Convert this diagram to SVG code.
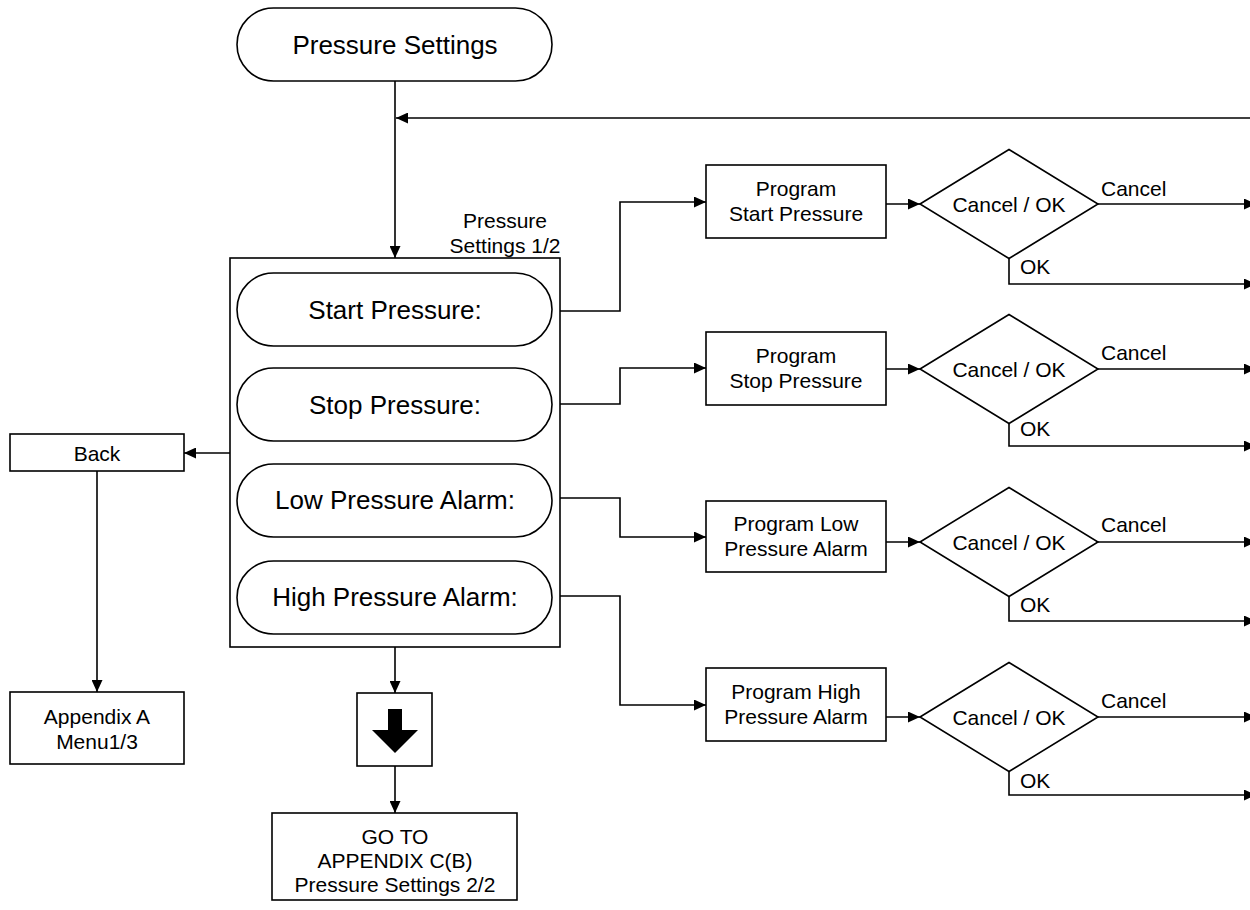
<svg xmlns="http://www.w3.org/2000/svg" width="1250" height="910" viewBox="0 0 1250 910">
<defs>
<marker id="ah" markerUnits="userSpaceOnUse" markerWidth="13" markerHeight="11" refX="12" refY="5.5" orient="auto"><path d="M0,0 L12,5.5 L0,11 z" fill="#000"/></marker>
<style>
.n{fill:#fff;stroke:#000;stroke-width:1.6}
.c{fill:none;stroke:#000;stroke-width:1.6;marker-end:url(#ah)}
.l{fill:none;stroke:#000;stroke-width:1.6}
text{font-family:"Liberation Sans",Arial,sans-serif;fill:#000}
.big{font-size:26px;text-anchor:middle}
.sm{font-size:21px;text-anchor:middle}
.lab{font-size:21px}
</style>
</defs>
<rect width="1250" height="910" fill="#fff"/>

<g id="connectors">
<path class="c" d="M395,81 V258"/>
<path class="c" d="M1252,118 H396"/>
<path class="c" d="M560,311 H620 V202 H706"/>
<path class="c" d="M560,404 H620 V368 H706"/>
<path class="c" d="M560,498 H620 V537 H706"/>
<path class="c" d="M560,596 H620 V705 H706"/>
<path class="c" d="M886,204 H920"/>
<path class="c" d="M886,369 H920"/>
<path class="c" d="M886,542 H920"/>
<path class="c" d="M886,717 H920"/>
<path class="c" d="M1098,204 H1256"/>
<path class="c" d="M1009,258.5 V284 H1256"/>
<path class="c" d="M1098,369 H1256"/>
<path class="c" d="M1009,423.5 V446 H1256"/>
<path class="c" d="M1098,542 H1256"/>
<path class="c" d="M1009,596.5 V621 H1256"/>
<path class="c" d="M1098,717 H1256"/>
<path class="c" d="M1009,771.5 V795 H1256"/>
<path class="c" d="M230,453 H184"/>
<path class="c" d="M97,471 V692"/>
<path class="c" d="M395,647 V693"/>
<path class="c" d="M395,766 V813"/>
<text class="lab" x="1101" y="196">Cancel</text>
<text class="lab" x="1020" y="274">OK</text>
<text class="lab" x="1101" y="360">Cancel</text>
<text class="lab" x="1020" y="436">OK</text>
<text class="lab" x="1101" y="532">Cancel</text>
<text class="lab" x="1020" y="612">OK</text>
<text class="lab" x="1101" y="708">Cancel</text>
<text class="lab" x="1020" y="788">OK</text>
</g>

<g id="pressure-settings">
<rect class="n" x="237" y="8" width="315" height="73" rx="36.5"/>
<text class="big" x="395" y="54">Pressure Settings</text>
</g>

<g id="menu-1-2">
<rect class="n" x="230" y="258" width="330" height="389"/>
<text class="sm" x="505" y="227.5">Pressure</text>
<text class="sm" x="505" y="252.5">Settings 1/2</text>
</g>
<g id="start-pressure">
<rect class="n" x="237" y="273" width="315" height="73" rx="36.5"/>
<text class="big" x="395" y="319">Start Pressure:</text>
</g>
<g id="stop-pressure">
<rect class="n" x="237" y="368" width="315" height="73" rx="36.5"/>
<text class="big" x="395" y="414">Stop Pressure:</text>
</g>
<g id="low-alarm">
<rect class="n" x="237" y="464" width="315" height="73" rx="36.5"/>
<text class="big" x="395" y="509">Low Pressure Alarm:</text>
</g>
<g id="high-alarm">
<rect class="n" x="237" y="561" width="315" height="73" rx="36.5"/>
<text class="big" x="395" y="606">High Pressure Alarm:</text>
</g>

<g id="prog-start">
<rect class="n" x="706" y="165" width="180" height="73"/>
<text class="sm" x="796" y="195.5">Program</text>
<text class="sm" x="796" y="220.5">Start Pressure</text>
</g>
<g id="prog-stop">
<rect class="n" x="706" y="332" width="180" height="73"/>
<text class="sm" x="796" y="362.5">Program</text>
<text class="sm" x="796" y="387.5">Stop Pressure</text>
</g>
<g id="prog-low">
<rect class="n" x="706" y="501" width="180" height="71"/>
<text class="sm" x="796" y="531">Program Low</text>
<text class="sm" x="796" y="556">Pressure Alarm</text>
</g>
<g id="prog-high">
<rect class="n" x="706" y="668" width="180" height="73"/>
<text class="sm" x="796" y="698.5">Program High</text>
<text class="sm" x="796" y="723.5">Pressure Alarm</text>
</g>

<g id="dec-start">
<polygon class="n" points="920,204 1009,149.5 1098,204 1009,258.5"/>
<text class="sm" x="1009" y="211.5">Cancel / OK</text>
</g>
<g id="dec-stop">
<polygon class="n" points="920,369 1009,314.5 1098,369 1009,423.5"/>
<text class="sm" x="1009" y="376.5">Cancel / OK</text>
</g>
<g id="dec-low">
<polygon class="n" points="920,542 1009,487.5 1098,542 1009,596.5"/>
<text class="sm" x="1009" y="549.5">Cancel / OK</text>
</g>
<g id="dec-high">
<polygon class="n" points="920,717 1009,662.5 1098,717 1009,771.5"/>
<text class="sm" x="1009" y="724.5">Cancel / OK</text>
</g>

<g id="back">
<rect class="n" x="10" y="434" width="174" height="37"/>
<text class="sm" x="97" y="460.5">Back</text>
</g>
<g id="appendix-a">
<rect class="n" x="10" y="692" width="174" height="72"/>
<text class="sm" x="97" y="723.5">Appendix A</text>
<text class="sm" x="97" y="749">Menu1/3</text>
</g>
<g id="next-page">
<rect class="n" x="357" y="693" width="75" height="73"/>
<path d="M388,709 H402 V730 H418 L395,753 L372,730 H388 z" fill="#000"/>
</g>
<g id="goto-c">
<rect class="n" x="272" y="813" width="245" height="87"/>
<text class="sm" x="395" y="844">GO TO</text>
<text class="sm" x="395" y="868">APPENDIX C(B)</text>
<text class="sm" x="395" y="892">Pressure Settings 2/2</text>
</g>
</svg>
